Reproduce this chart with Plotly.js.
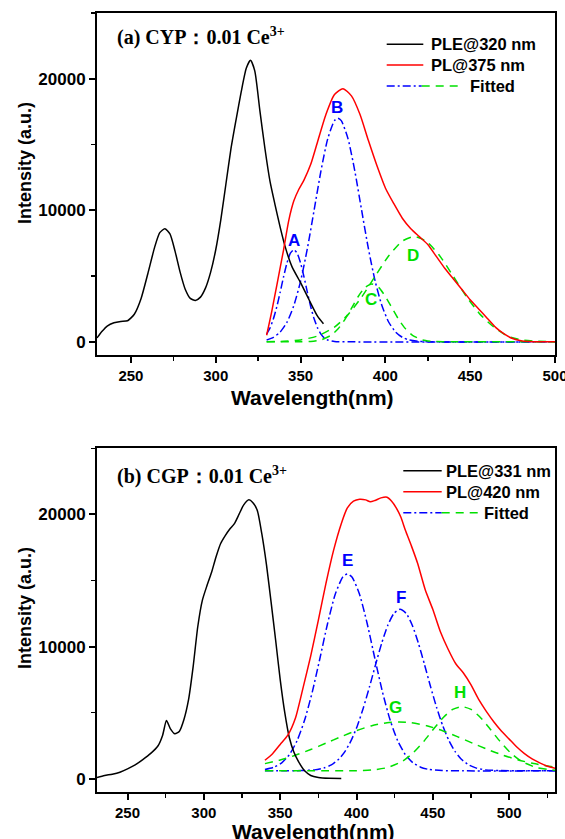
<!DOCTYPE html>
<html>
<head>
<meta charset="utf-8">
<script src="https://cdn.plot.ly/plotly-3.0.1.min.js"></script>
<style>html,body{margin:0;padding:0;background:#fff;}#chart{width:565px;height:839px;}</style>
</head>
<body>
<div id="chart"></div>
<script>
// ---------- Panel (a) CYP : 0.01 Ce3+ ----------
const pleA_x = [230,233,236,240,244,248,252,256,260,264,267,270,273,276,279,282,285,288,291,294,297,300,303,306,309,312,315,318,320.5,323,326,329,332,335,338,341,345,350,355,360,363.5];
const pleA_y = [300,800,1200,1450,1550,1600,2100,3300,5200,7200,8300,8600,8200,6900,5300,4000,3300,3150,3400,4100,5300,7000,9300,12000,14700,16900,19000,20800,21400,20600,17600,14700,12200,10400,8700,7200,5700,4500,3200,1950,1370];

const plA_x = [330,333,336,340,343,346,349,352,356,360,365,370,375,380,385,390,395,400,405,410,415,420,425,430,435,440,445,450,455,460,465,470,475,480,485,490,500];
const plA_y = [500,2300,4300,7000,9200,10700,11600,12300,13500,15200,17300,18800,19250,18700,17300,15300,13400,11700,10500,9400,8600,8000,7400,6500,5600,4800,4000,3200,2500,1800,1100,600,250,80,20,0,0];

const A_x = [330,332,334,336,338,340,342,344,346,348,350,352,354,356,358,360,362,364,366,370,380,500];
const A_y = [590,1060,1750,2670,3780,4950,6000,6740,7000,6740,6000,4950,3780,2670,1750,1060,590,300,140,20,0,0];

const B_x = [330,334,338,342,346,350,354,358,362,366,370,372,374,378,382,386,390,394,398,402,406,410,414,420,430,500];
const B_y = [145,345,750,1490,2740,4600,7080,10010,12980,15430,16820,17000,16820,15430,12980,10010,7080,4600,2740,1490,750,345,145,30,0,0];

const C_x = [330,350,356,362,368,372,376,380,384,388,392,396,400,404,408,412,416,422,428,434,440,500];
const C_y = [0,6,33,147,500,970,1670,2550,3450,4140,4400,4140,3450,2550,1670,970,500,147,33,6,0,0];

const D_x = [330,340,350,360,370,378,386,394,402,410,417,424,432,440,448,456,464,472,480,490,500];
const D_y = [9,41,147,443,1120,2070,3400,4990,6550,7660,8000,7660,6550,4990,3400,2070,1120,443,147,41,9];

// ---------- Panel (b) CGP : 0.01 Ce3+ ----------
const pleB_x = [230,235,240,245,250,255,260,265,270,273,275.5,278,281,284,287,290,293,296,299,302,305,308,311,314,317,320,323,326,329.5,332,335,338,341,344,347,350,353,356,359,362,366,370,375,382,390];
const pleB_y = [100,250,350,500,750,1050,1450,1900,2500,3300,4400,3800,3400,3600,4500,6000,8500,11500,13500,14600,15600,16800,17800,18400,18900,19300,20000,20700,21100,20900,20300,18500,16200,13400,10500,7500,5000,3100,2000,1300,600,250,100,40,30];

const plB_x = [340,345,350,355,360,365,370,375,380,385,390,394,398,402,406,409,412,416,420,423,426,429,432,436,440,445,450,455,460,465,470,475,480,485,490,495,500,505,510,515,520,525,530];
const plB_y = [1400,1900,2600,3300,4600,6900,9300,12000,14800,17300,19300,20500,21000,21150,21100,20950,21050,21250,21300,21000,20500,19800,18800,17600,16300,14300,12800,11100,9800,8700,8000,7100,6000,5100,4300,3600,3000,2400,1900,1500,1200,950,800];

const E_x = [340,346,351,356,361,366,371,376,381,386,391,394,397,402,407,412,417,422,427,432,437,442,447,456,470,530];
const E_y = [700,876,1208,1825,2865,4440,6560,9100,11730,13940,15270,15500,15270,13940,11730,9100,6560,4440,2865,1825,1208,876,715,620,600,600];

const F_x = [340,363.5,372.5,378.5,383.5,388.5,392.5,396.5,400.5,404.5,408.5,412.5,416.5,420.5,424.5,428.5,432.5,436.5,440.5,444.5,448.5,452.5,456.5,460.5,464.5,468.5,473.5,478.5,484.5,493.5,530];
const F_y = [600,620,673,807,1049,1498,2074,2900,4000,5380,6960,8650,10265,11620,12510,12830,12510,11620,10265,8650,6960,5380,4000,2900,2074,1498,1049,807,673,620,600];

const G_x = [340,350,360,370,380,390,400,410,420,428,436,446,456,466,476,486,496,506,516,530];
const G_y = [1148,1424,1781,2212,2695,3190,3650,4015,4242,4300,4242,4015,3650,3190,2695,2212,1781,1424,1148,883];

const H_x = [340,400,410,420,430,437,444,451,457,463,469,475,481,487,494,501,508,518,528,530];
const H_y = [600,613,663,842,1326,1951,2826,3842,4660,5246,5460,5246,4660,3842,2826,1951,1326,842,663,640];

// labels
const peakLabelsA = {text:['A','B','C','D'], x:[346,371.5,391.5,416.3], y:[7670,17840,3190,6530]};
const peakLabelsB = {text:['E','F','G','H'], x:[394.4,429.2,425.2,468], y:[16520,13700,5380,6520]};
const legendA = ['PLE@320 nm','PL@375 nm','Fitted'];
const legendB = ['PLE@331 nm','PL@420 nm','Fitted'];

const BLUE = '#0000ff', GREEN = '#00e000', RED = '#ff0000', BLACK = '#000000';
const blueDash = '8px,3px,2px,3px', greenDash = '8px,6px';
const SANS = 'Liberation Sans, Arial, sans-serif';
const SERIF = 'Liberation Serif, Times New Roman, serif';

function tr(x, y, color, dash, xa, ya) {
  return {x:x, y:y, type:'scatter', mode:'lines', xaxis:xa, yaxis:ya, showlegend:false,
    line:{color:color, width:1.5, dash:dash||'solid', shape:'spline', smoothing:0.6}, hoverinfo:'skip'};
}

const data = [
  tr(A_x, A_y, BLUE, blueDash, 'x', 'y'),
  tr(B_x, B_y, BLUE, blueDash, 'x', 'y'),
  tr(C_x, C_y, GREEN, greenDash, 'x', 'y'),
  tr(D_x, D_y, GREEN, greenDash, 'x', 'y'),
  tr(pleA_x, pleA_y, BLACK, 'solid', 'x', 'y'),
  tr(plA_x, plA_y, RED, 'solid', 'x', 'y'),
  tr(E_x, E_y, BLUE, blueDash, 'x2', 'y2'),
  tr(F_x, F_y, BLUE, blueDash, 'x2', 'y2'),
  tr(G_x, G_y, GREEN, greenDash, 'x2', 'y2'),
  tr(H_x, H_y, GREEN, greenDash, 'x2', 'y2'),
  tr(pleB_x, pleB_y, BLACK, 'solid', 'x2', 'y2'),
  tr(plB_x, plB_y, RED, 'solid', 'x2', 'y2')
];

// pixel -> paper helpers (plot area: x 97..555, y 13..792)
const W = 565, H = 839, L = 97, R = 10, T = 13, B = 47;
const px = v => (v - L) / (W - L - R);
const py = v => (H - B - v) / (H - T - B);

function axisX(range, anchor) {
  return {range:range, anchor:anchor, showline:true, linewidth:2, linecolor:'#000', mirror:true,
    ticks:'outside', ticklen:6, tickwidth:2, tickcolor:'#000', dtick:50, tick0:0,
    ticklabeloverflow:'allow',
    minor:{ticks:'outside', ticklen:4, tickwidth:1.5, tickcolor:'#000', dtick:25, tick0:0},
    showgrid:false, zeroline:false, tickfont:{family:SANS, size:15, color:'#000', weight:'bold'}};
}
function axisY(domain, anchor) {
  return {domain:domain, range:[-1000,25000], anchor:anchor, showline:true, linewidth:2, linecolor:'#000', mirror:true,
    ticks:'outside', ticklen:6, tickwidth:2, tickcolor:'#000', dtick:10000, tick0:0, tickformat:'d',
    minor:{ticks:'outside', ticklen:4, tickwidth:1.5, tickcolor:'#000', dtick:5000, tick0:0},
    showgrid:false, zeroline:false, tickfont:{family:SANS, size:17, color:'#000', weight:'bold'}};
}

const shapes = [];
const annotations = [];

function addLegend(labels, x0, x1, rows, textX, fitBlueEnd, fitGreenEnd, fitTextX) {
  shapes.push({type:'line', xref:'paper', yref:'paper', x0:px(x0), x1:px(x1), y0:py(rows[0]), y1:py(rows[0]), line:{color:BLACK, width:1.5}});
  shapes.push({type:'line', xref:'paper', yref:'paper', x0:px(x0), x1:px(x1), y0:py(rows[1]), y1:py(rows[1]), line:{color:RED, width:1.5}});
  shapes.push({type:'line', xref:'paper', yref:'paper', x0:px(x0), x1:px(fitBlueEnd), y0:py(rows[2]), y1:py(rows[2]), line:{color:BLUE, width:1.5, dash:blueDash}});
  shapes.push({type:'line', xref:'paper', yref:'paper', x0:px(fitBlueEnd), x1:px(fitGreenEnd), y0:py(rows[2]), y1:py(rows[2]), line:{color:GREEN, width:1.5, dash:greenDash}});
  const tx = [textX, textX, fitTextX];
  for (let i = 0; i < 3; i++) {
    annotations.push({xref:'paper', yref:'paper', x:px(tx[i]), y:py(rows[i]), xanchor:'left', yanchor:'middle',
      text:labels[i], showarrow:false, font:{family:SANS, size:16.5, color:'#000', weight:'bold'}});
  }
}
addLegend(legendA, 386.7, 423.3, [44.3, 65, 86], 429.3, 421.7, 461.7, 467.7);
addLegend(legendB, 403.3, 441.7, [470.7, 491.7, 512.7], 444, 441.7, 478.3, 481.7);

// panel titles
annotations.push({xref:'paper', yref:'paper', x:px(115), y:py(37), xanchor:'left', yanchor:'middle', showarrow:false,
  text:'(a) CYP：0.01 Ce<sup>3+</sup>', font:{family:SERIF, size:20, color:'#000', weight:'bold'}});
annotations.push({xref:'paper', yref:'paper', x:px(115), y:py(475), xanchor:'left', yanchor:'middle', showarrow:false,
  text:'(b) CGP：0.01 Ce<sup>3+</sup>', font:{family:SERIF, size:20, color:'#000', weight:'bold'}});

// peak labels
function addPeakLabels(lab, xa, ya) {
  for (let i = 0; i < lab.text.length; i++) {
    const isBlue = (lab.text[i] === 'A' || lab.text[i] === 'B' || lab.text[i] === 'E' || lab.text[i] === 'F');
    annotations.push({xref:xa, yref:ya, x:lab.x[i], y:lab.y[i], xanchor:'center', yanchor:'middle', showarrow:false,
      text:lab.text[i], font:{family:SANS, size:17, color:isBlue ? BLUE : GREEN, weight:'bold'}});
  }
}
addPeakLabels(peakLabelsA, 'x', 'y');
addPeakLabels(peakLabelsB, 'x2', 'y2');

// axis titles
const ytitleFont = {family:SANS, size:18, color:'#000', weight:'bold'};
const xtitleFont = {family:SANS, size:21, color:'#000', weight:'bold'};
annotations.push({xref:'paper', yref:'paper', x:px(25), y:py(163), xanchor:'center', yanchor:'middle', textangle:-90, showarrow:false, text:'Intensity (a.u.)', font:ytitleFont});
annotations.push({xref:'paper', yref:'paper', x:px(25), y:py(608), xanchor:'center', yanchor:'middle', textangle:-90, showarrow:false, text:'Intensity (a.u.)', font:ytitleFont});
annotations.push({xref:'paper', yref:'paper', x:px(312.5), y:py(397), xanchor:'center', yanchor:'middle', showarrow:false, text:'Wavelength(nm)', font:xtitleFont});
annotations.push({xref:'paper', yref:'paper', x:px(313), y:py(831), xanchor:'center', yanchor:'middle', showarrow:false, text:'Wavelength(nm)', font:xtitleFont});

const layout = {
  width:W, height:H, margin:{l:L, r:R, t:T, b:B}, paper_bgcolor:'#fff', plot_bgcolor:'#fff',
  showlegend:false,
  xaxis: axisX([230,500], 'y'),
  yaxis: axisY([py(355), 1], 'x'),
  xaxis2: axisX([230,530], 'y2'),
  yaxis2: axisY([0, py(448.3)], 'x2'),
  shapes:shapes, annotations:annotations
};

Plotly.newPlot('chart', data, layout, {staticPlot:true, displayModeBar:false});
</script>
</body>
</html>
